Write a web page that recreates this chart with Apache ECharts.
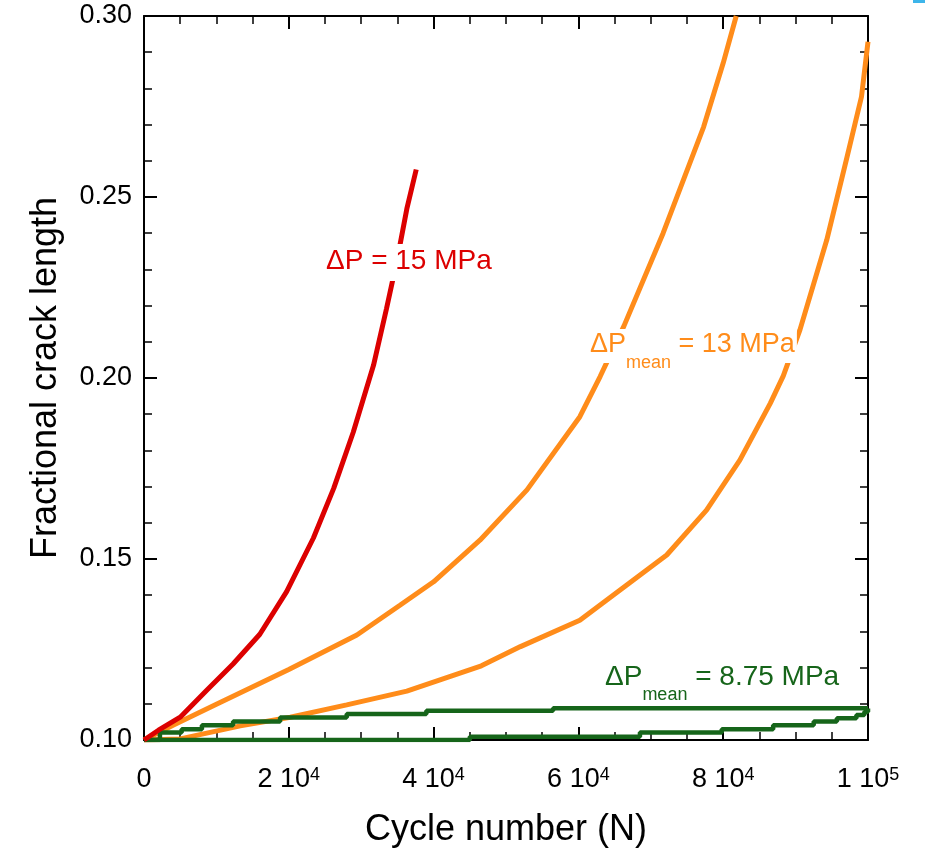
<!DOCTYPE html>
<html>
<head>
<meta charset="utf-8">
<script src="https://cdn.jsdelivr.net/npm/echarts@6/dist/echarts.min.js"></script>
<style>
html,body{margin:0;padding:0;background:#fff;}
#c{width:925px;height:848px;}
</style>
</head>
<body>
<div id="c"></div>
<script>
// ---- data ----
const xTicks = [0, 20000, 40000, 60000, 80000, 100000];
const xTickBase = ['0', '2 10', '4 10', '6 10', '8 10', '1 10'];
const xTickExp = ['', '4', '4', '4', '4', '5'];
const yTickLabels = ['0.10', '0.15', '0.20', '0.25', '0.30'];

const redN = [0, 2000, 5000, 8600, 12300, 16000, 19700, 23400, 26200, 28900, 31700, 33500, 35000, 36300, 37600];
const redA = [0.100, 0.1027, 0.1063, 0.1136, 0.1210, 0.1292, 0.1410, 0.1558, 0.1695, 0.1850, 0.2035, 0.2192, 0.2330, 0.2467, 0.2576];

const orange1N = [0, 4000, 10000, 20000, 29400, 35400, 40000, 46400, 52900, 60200, 63000, 66300, 71700, 77300, 80000, 81800];
const orange1A = [0.100, 0.1041, 0.1099, 0.1195, 0.1290, 0.1373, 0.1437, 0.1552, 0.1691, 0.1893, 0.2004, 0.2144, 0.2400, 0.2694, 0.2870, 0.3000];

const orange2N = [0, 5000, 13300, 20200, 28000, 36300, 46600, 52000, 60200, 72200, 77700, 82300, 86500, 88300, 90600, 94300, 97000, 99100, 100000];
const orange2A = [0.100, 0.1003, 0.1039, 0.1063, 0.1097, 0.1135, 0.1205, 0.1258, 0.1331, 0.1511, 0.1635, 0.1773, 0.1930, 0.2006, 0.2133, 0.2381, 0.2602, 0.2777, 0.2929];

const green1N = [0, 2200, 5200, 8000, 12300, 18800, 28000, 39000, 56500, 100000];
const green1A = [0.100, 0.1021, 0.1030, 0.1041, 0.1051, 0.1062, 0.1072, 0.1081, 0.1088, 0.1088];

const green2N = [0, 45000, 68500, 79800, 86900, 92500, 95700, 98400, 99500, 100000];
const green2A = [0.100, 0.1009, 0.1021, 0.1030, 0.1041, 0.1051, 0.1060, 0.1069, 0.1078, 0.1087];

// ---- chart ----
const FONT = '"Liberation Sans", Arial, Helvetica, sans-serif';
const RED = '#dc0000', ORANGE = '#ff8c1a', GREEN = '#16651a';
const zip = (a, b) => a.map((v, i) => [v, b[i]]);

const chart = echarts.init(document.getElementById('c'));

function axisLine() { return { show: true, onZero: false, lineStyle: { color: '#000', width: 2 } }; }
function majorTick() { return { show: true, inside: true, length: 13, lineStyle: { color: '#000', width: 2 } }; }
function minorTick(n) { return { show: true, splitNumber: n, length: 8, lineStyle: { color: '#000', width: 1.5 } }; }

chart.setOption({
  animation: false,
  backgroundColor: '#fff',
  grid: { left: 144, right: 57, top: 16, bottom: 108, containLabel: false, outerBoundsMode: 'none' },
  xAxis: [{
    type: 'value', min: 0, max: 100000, interval: 20000, position: 'bottom',
    axisLine: axisLine(), axisTick: majorTick(), minorTick: minorTick(4),
    splitLine: { show: false },
    axisLabel: {
      margin: 26,
      formatter: function (v) {
        const i = xTicks.indexOf(v);
        if (i < 0) return '';
        return xTickExp[i] ? '{b|' + xTickBase[i] + '}{s|' + xTickExp[i] + '}' : '{b|' + xTickBase[i] + '}';
      },
      rich: {
        b: { fontSize: 27, fontFamily: FONT, color: '#000', lineHeight: 30, verticalAlign: 'top' },
        s: { fontSize: 18, fontFamily: FONT, color: '#000', lineHeight: 14, verticalAlign: 'top' }
      }
    },
    name: 'Cycle number (N)', nameLocation: 'middle', nameGap: 72,
    nameTextStyle: { fontSize: 36, fontFamily: FONT, color: '#000' }
  }, {
    type: 'value', min: 0, max: 100000, interval: 20000, position: 'top',
    axisLine: axisLine(), axisTick: majorTick(), minorTick: minorTick(4),
    splitLine: { show: false }, axisLabel: { show: false }
  }],
  yAxis: [{
    type: 'value', min: 0.10, max: 0.30, interval: 0.05, position: 'left',
    axisLine: axisLine(), axisTick: majorTick(), minorTick: minorTick(5),
    splitLine: { show: false },
    axisLabel: {
      margin: 12, fontSize: 27, fontFamily: FONT, color: '#000',
      formatter: function (v) {
        const i = Math.round((v - 0.10) / 0.05);
        return yTickLabels[i] || '';
      }
    },
    name: 'Fractional crack length', nameLocation: 'middle', nameGap: 80,
    nameTextStyle: { fontSize: 36, fontFamily: FONT, color: '#000' }
  }, {
    type: 'value', min: 0.10, max: 0.30, interval: 0.05, position: 'right',
    axisLine: axisLine(), axisTick: majorTick(), minorTick: minorTick(5),
    splitLine: { show: false }, axisLabel: { show: false }
  }],
  series: [
    { type: 'line', name: 'green2', data: zip(green2N, green2A), step: 'end', showSymbol: false, lineStyle: { color: GREEN, width: 4.5 }, z: 3 },
    { type: 'line', name: 'green1', data: zip(green1N, green1A), step: 'end', showSymbol: false, lineStyle: { color: GREEN, width: 4.5 }, z: 3 },
    { type: 'line', name: 'orange2', data: zip(orange2N, orange2A), showSymbol: false, lineStyle: { color: ORANGE, width: 5 }, z: 2 },
    { type: 'line', name: 'orange1', data: zip(orange1N, orange1A), showSymbol: false, lineStyle: { color: ORANGE, width: 5 }, z: 2 },
    { type: 'line', name: 'red', data: zip(redN, redA), showSymbol: false, lineStyle: { color: RED, width: 5 }, z: 4 }
  ],
  graphic: [
    { type: 'rect', shape: { x: 913, y: 0, width: 12, height: 3 }, style: { fill: '#3db5ea' } },
    { type: 'text', left: 324, top: 244, z: 10,
      style: { text: 'ΔP = 15 MPa', fill: RED, font: '28px ' + FONT, backgroundColor: '#fff', padding: [3, 2, 6, 2] } },
    { type: 'text', left: 588, top: 329, z: 10,
      style: {
        text: '{m|ΔP}{s|mean}{m| = 13 MPa}', backgroundColor: '#fff', padding: [2, 2, 2, 2],
        rich: {
          m: { fontSize: 27, fontFamily: FONT, fill: ORANGE, color: ORANGE, lineHeight: 30, verticalAlign: 'top' },
          s: { fontSize: 18, fontFamily: FONT, fill: ORANGE, color: ORANGE, lineHeight: 20, verticalAlign: 'top', padding: [23, 0, 0, 0] }
        }
      } },
    { type: 'text', left: 605, top: 663, z: 10,
      style: {
        text: '{m|ΔP}{s|mean}{m| = 8.75 MPa}',
        rich: {
          m: { fontSize: 28, fontFamily: FONT, fill: GREEN, color: GREEN, lineHeight: 30, verticalAlign: 'top' },
          s: { fontSize: 18, fontFamily: FONT, fill: GREEN, color: GREEN, lineHeight: 20, verticalAlign: 'top', padding: [23, 0, 0, 0] }
        }
      } }
  ]
});
</script>
</body>
</html>
